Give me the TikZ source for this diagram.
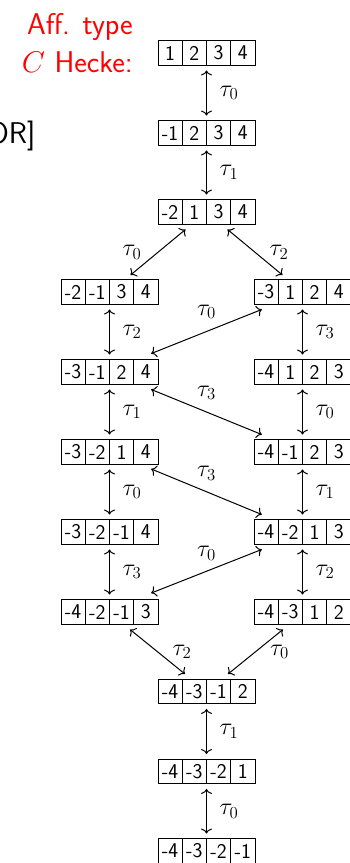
\RequirePackage{fix-cm}
\documentclass[tikz,border=0pt]{standalone}
\usetikzlibrary{arrows.meta,calc}
\tikzset{
  cell/.style={draw, line width=1pt, minimum width=24.25pt, minimum height=24.5pt,
    inner sep=0pt, font=\fontsize{21}{22}\selectfont\sffamily},
  pboxst/.style={minimum width=97pt, minimum height=24.5pt, inner sep=0pt},
  dbl/.style={line width=1pt, {Computer Modern Rightarrow[length=5pt,width=11pt]}-{Computer Modern Rightarrow[length=5pt,width=11pt]}},
  lab/.style={inner sep=0pt, font=\fontsize{24}{26}\selectfont},
  ttl/.style={inner sep=0pt, font=\fontsize{30}{36}\selectfont\sffamily},
}
\newcommand\pbox[7]{%
  \node[pboxst] (#1) at (#2,#3) {};
  \node[cell] (#1-a) at ($(#1)+(-36.375,0)$) {#4};
  \node[cell] (#1-b) at ($(#1)+(-12.125,0)$) {#5};
  \node[cell] (#1-c) at ($(#1)+(12.125,0)$) {#6};
  \node[cell] (#1-d) at ($(#1)+(36.375,0)$) {#7};
}
\begin{document}
\begin{tikzpicture}[x=1pt,y=-1pt]
\useasboundingbox (0,0) rectangle (350,863);
\node[ttl, red, anchor=base east] (t1) at (133,34) {Aff. type};
\node[ttl, red, anchor=base east] (t2) at (133,72) {$C$ Hecke:};
\node[ttl, anchor=base east] (or) at (35.5,143) {OR]};

\def\xl{109.5}\def\xc{206.5}\def\xr{302.5}
\pbox{r0}{\xc}{53}{1}{2}{3}{4}
\pbox{r1}{\xc}{133}{-1}{2}{3}{4}
\pbox{r2}{\xc}{212}{-2}{1}{3}{4}
\pbox{r3L}{\xl}{292}{-2}{-1}{3}{4}
\pbox{r3R}{\xr}{292}{-3}{1}{2}{4}
\pbox{r4L}{\xl}{372}{-3}{-1}{2}{4}
\pbox{r4R}{\xr}{372}{-4}{1}{2}{3}
\pbox{r5L}{\xl}{452}{-3}{-2}{1}{4}
\pbox{r5R}{\xr}{452}{-4}{-1}{2}{3}
\pbox{r6L}{\xl}{532}{-3}{-2}{-1}{4}
\pbox{r6R}{\xr}{532}{-4}{-2}{1}{3}
\pbox{r7L}{\xl}{612}{-4}{-2}{-1}{3}
\pbox{r7R}{\xr}{612}{-4}{-3}{1}{2}
\pbox{r8}{\xc}{691.5}{-4}{-3}{-1}{2}
\pbox{r9}{\xc}{771.5}{-4}{-3}{-2}{1}
\pbox{r10}{\xc}{851}{-4}{-3}{-2}{-1}

% vertical arrows
\newcommand\varr[3]{\draw[dbl] ($(#1.south)+(0,5)$) -- ($(#2.north)+(0,-5)$)
  node[lab, midway, anchor=west, xshift=12.5pt] {$\tau_{#3}$};}
\varr{r0}{r1}{0}
\varr{r1}{r2}{1}
\varr{r3L}{r4L}{2}
\varr{r4L}{r5L}{1}
\varr{r5L}{r6L}{0}
\varr{r6L}{r7L}{3}
\varr{r3R}{r4R}{3}
\varr{r4R}{r5R}{0}
\varr{r5R}{r6R}{1}
\varr{r6R}{r7R}{2}
\varr{r8}{r9}{1}
\varr{r9}{r10}{0}

% diagonal arrows
\draw[dbl] ($(r2.south)+(-21,5)$) -- ($(r3L.north)+(21,-4.5)$)
  node[lab, midway, xshift=-26pt] {$\tau_0$};
\draw[dbl] ($(r2.south)+(21,5)$) -- ($(r3R.north)+(-20,-4.5)$)
  node[lab, midway, xshift=24pt] {$\tau_2$};
\draw[dbl] ($(r3R.south west)+(8,5)$) -- ($(r4L.north east)+(-7,-6)$)
  node[lab, midway, yshift=19.5pt] {$\tau_0$};
\draw[dbl] ($(r4L.south east)+(-7,5)$) -- ($(r5R.north west)+(8,-5)$)
  node[lab, midway, yshift=19pt] {$\tau_3$};
\draw[dbl] ($(r5L.south east)+(-7,4.5)$) -- ($(r6R.north west)+(8,-5)$)
  node[lab, midway, yshift=18.5pt] {$\tau_3$};
\draw[dbl] ($(r6R.south west)+(8,5)$) -- ($(r7L.north east)+(-7,-6.5)$)
  node[lab, midway, yshift=18pt] {$\tau_0$};
\draw[dbl] ($(r7L.south)+(20.5,5)$) -- ($(r8.north)+(-21.5,-5)$)
  node[lab, midway, xshift=24.5pt] {$\tau_2$};
\draw[dbl] ($(r7R.south)+(-19.5,5)$) -- ($(r8.north)+(21.5,-5)$)
  node[lab, midway, xshift=24pt] {$\tau_0$};
\end{tikzpicture}
\end{document}
